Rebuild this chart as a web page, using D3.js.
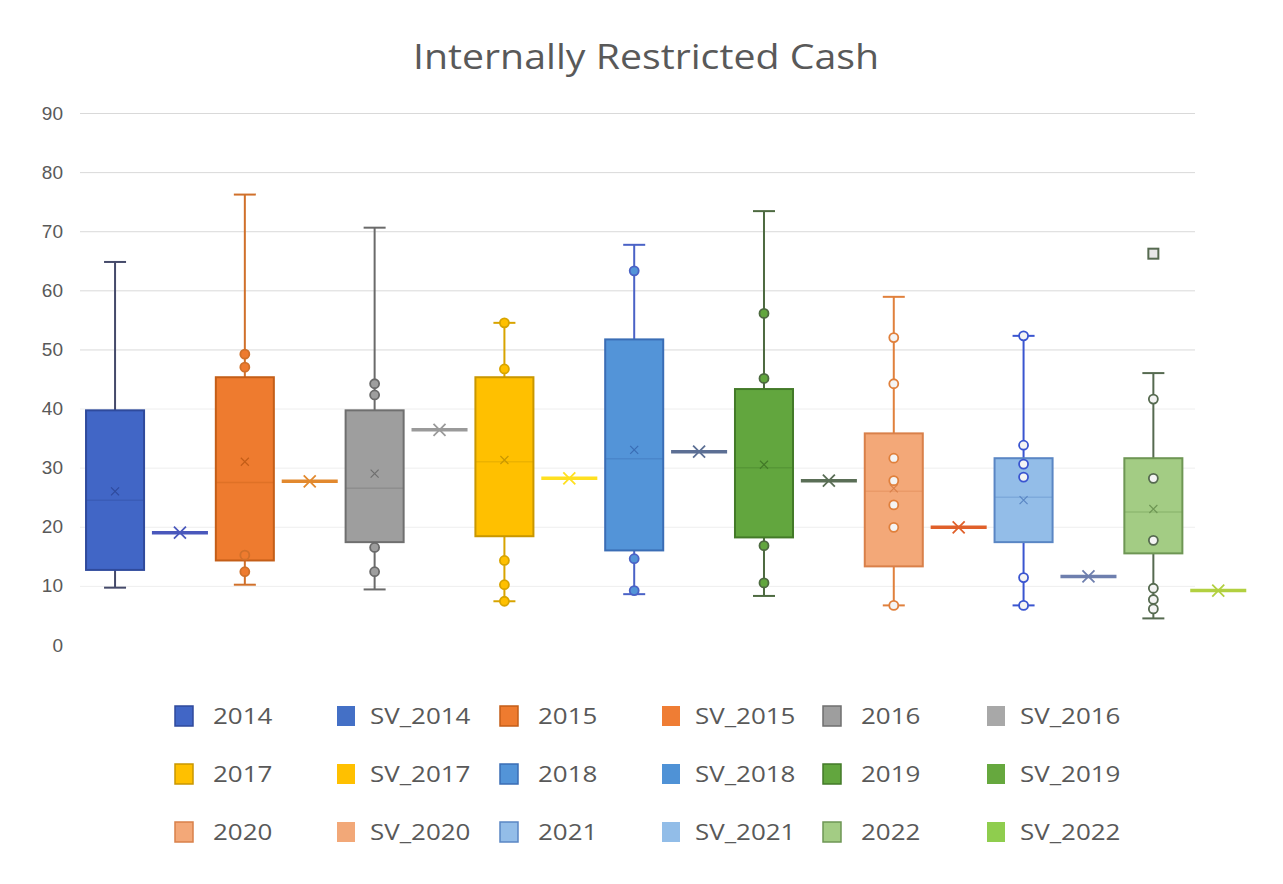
<!DOCTYPE html>
<meta charset="utf-8">
<style>
body {
  margin: 0;
  background: #fff;
  font-family: "Open Sans", sans-serif;
}
.title {
  font-size: 34px;
  fill: #595959;
}
.axis--y text {
  font-size: 19px;
  fill: #595959;
}
.axis--y path, .axis--y line {
  display: none;
}
.grid line {
  stroke: #d9d9d9;
  stroke-width: 1px;
}
.grid .faint line {
  stroke: #eeeeee;
}
.grid path {
  display: none;
}
.legend text {
  font-size: 22px;
  fill: #595959;
}
</style>
<body>
<svg width="1283" height="884"></svg>
<script src="https://d3js.org/d3.v7.min.js"></script>
<script>
// box data per year
var years = ["2014", "2015", "2016", "2017", "2018", "2019", "2020", "2021", "2022"];
var lowWhisker  = [9.7, 10.2, 9.4, 7.4, 8.6, 8.3, 6.7, 6.7, 4.5];
var q1          = [12.7, 14.3, 17.4, 18.4, 16.0, 18.2, 13.3, 17.4, 15.5];
var medians     = [24.5, 27.5, 26.5, 31.0, 31.5, 30.0, 26.0, 25.0, 22.5];
var q3          = [39.7, 45.3, 39.7, 45.3, 51.7, 43.3, 35.8, 31.6, 31.6];
var highWhisker = [64.8, 76.2, 70.6, 54.5, 67.7, 73.4, 58.9, 52.3, 46.0];
var means       = [26.0, 31.0, 29.0, 31.3, 33.0, 30.5, 26.5, 24.5, 23.0];
var points = [
  [],
  [49.2, 47.0, 15.2, 12.4],
  [44.2, 42.3, 16.5, 12.4],
  [54.5, 46.7, 14.3, 10.2, 7.4],
  [63.3, 14.6, 9.2],
  [56.1, 45.1, 16.8, 10.5],
  [52.0, 44.2, 31.6, 27.8, 23.7, 19.9, 6.7],
  [52.3, 33.8, 30.6, 28.4, 11.4, 6.7],
  [41.6, 28.2, 17.7, 9.6, 7.7, 6.1]
];
var outliers = [[], [], [], [], [], [], [], [], [66.2]];
// single value series
var svValues = [19.0, 27.7, 36.4, 28.2, 32.7, 27.8, 19.9, 11.6, 9.2];

var yTicks = [0, 10, 20, 30, 40, 50, 60, 70, 80, 90];

var boxFill   = ["#4166c6", "#ee7b2f", "#9e9e9e", "#ffc000", "#5394d8", "#62a63e", "#f3a878", "#93bde8", "#a3cc84"];
var boxStroke = ["#2f4a9c", "#c45e18", "#6f6f6f", "#c99700", "#3a6db5", "#437a28", "#d9804a", "#5a86c4", "#6e9654"];
var whiskColor = ["#454a6a", "#d0702a", "#6a6a6a", "#d8a400", "#4a62c6", "#4d6a40", "#e0803c", "#3a55d0", "#566a50"];
var svColor   = ["#4a58bc", "#e2892e", "#9a9a9a", "#ffe020", "#5c6f94", "#5a6e56", "#e0602a", "#6e7fae", "#b2d040"];
var svLegend  = ["#4470c6", "#ef7d34", "#a8a8a8", "#ffc000", "#4f92d6", "#66a83e", "#f2a878", "#92bde8", "#8fcd4e"];

var svg = d3.select("svg"),
    margin = {top: 113, bottom: 645};

var slots = [];
years.forEach(function(y) { slots.push(y); slots.push("SV_" + y); });

var x = d3.scaleBand()
    .domain(slots)
    .range([82.6, 1250.7])
    .paddingInner(0.075)
    .paddingOuter(0.0375);

var y = d3.scaleLinear()
    .domain([0, 90])
    .range([margin.bottom, margin.top]);

svg.append("text")
    .attr("class", "title")
    .attr("x", 646)
    .attr("y", 69)
    .attr("text-anchor", "middle")
    .attr("textLength", 466)
    .attr("lengthAdjust", "spacingAndGlyphs")
    .text("Internally Restricted Cash");

// gridlines
var grid = svg.append("g")
    .attr("class", "grid")
    .attr("transform", "translate(80,0)")
    .call(d3.axisLeft(y).tickValues(yTicks.slice(1)).tickSize(-1115).tickFormat(""));
grid.selectAll(".tick").classed("faint", function(d) { return d < 50; });

svg.append("g")
    .attr("class", "axis axis--y")
    .attr("transform", "translate(63,0)")
    .call(d3.axisLeft(y).tickValues(yTicks).tickSize(0).tickPadding(0));

var bw = x.bandwidth();

function xMarker(g, cx, cy, s, color, w) {
  g.append("path")
      .attr("d", "M" + (cx - s) + "," + (cy - s) + "L" + (cx + s) + "," + (cy + s) +
                 "M" + (cx - s) + "," + (cy + s) + "L" + (cx + s) + "," + (cy - s))
      .attr("stroke", color)
      .attr("stroke-width", w)
      .attr("fill", "none");
}

years.forEach(function(yr, i) {
  var g = svg.append("g").attr("class", "box"),
      x0 = x(yr),
      cx = x0 + bw / 2;

  // whisker
  g.append("line")
      .attr("x1", cx).attr("x2", cx)
      .attr("y1", y(highWhisker[i])).attr("y2", y(lowWhisker[i]))
      .attr("stroke", whiskColor[i]).attr("stroke-width", 2);
  [highWhisker[i], lowWhisker[i]].forEach(function(v) {
    g.append("line")
        .attr("x1", cx - 11).attr("x2", cx + 11)
        .attr("y1", y(v)).attr("y2", y(v))
        .attr("stroke", whiskColor[i]).attr("stroke-width", 2);
  });

  g.append("rect")
      .attr("x", x0 + 1)
      .attr("y", y(q3[i]))
      .attr("width", bw - 2)
      .attr("height", y(q1[i]) - y(q3[i]))
      .attr("fill", boxFill[i])
      .attr("stroke", boxStroke[i])
      .attr("stroke-width", 2);

  g.append("line")
      .attr("x1", x0 + 1).attr("x2", x0 + bw - 1)
      .attr("y1", y(medians[i])).attr("y2", y(medians[i]))
      .attr("stroke", boxStroke[i]).attr("stroke-opacity", 0.35).attr("stroke-width", 1.5);

  xMarker(g, cx, y(means[i]), 4, boxStroke[i], 1.2);

  g.selectAll(".pt")
      .data(points[i])
      .enter().append("circle")
      .attr("cx", cx)
      .attr("cy", function(d) { return y(d); })
      .attr("r", 4.5)
      .attr("fill", i >= 6 ? "#f4f4f4" : boxFill[i])
      .attr("stroke", whiskColor[i])
      .attr("stroke-width", 1.8);

  g.selectAll(".out")
      .data(outliers[i])
      .enter().append("rect")
      .attr("x", cx - 5)
      .attr("y", function(d) { return y(d) - 5; })
      .attr("width", 10).attr("height", 10)
      .attr("fill", "#e8e8e8")
      .attr("stroke", whiskColor[i])
      .attr("stroke-width", 2);

  // single value series
  var sx = x("SV_" + yr), sc = sx + bw / 2, sy = y(svValues[i]);
  g.append("line")
      .attr("x1", sx + 2).attr("x2", sx + bw - 2)
      .attr("y1", sy).attr("y2", sy)
      .attr("stroke", svColor[i]).attr("stroke-width", 3.5);
  xMarker(g, sc, sy, 6, svColor[i], 1.8);
});

// legend
var legendX = [175, 337, 500, 662, 823, 987],
    legendY = [716, 774, 832];

var legend = svg.append("g").attr("class", "legend");
slots.forEach(function(name, k) {
  var yi = Math.floor(k / 2),
      isSv = k % 2 === 1,
      col = k % 6,
      row = Math.floor(k / 6),
      lx = legendX[col], ly = legendY[row];
  legend.append("rect")
      .attr("x", lx)
      .attr("y", ly - 10)
      .attr("width", 18)
      .attr("height", 20)
      .attr("fill", isSv ? svLegend[yi] : boxFill[yi])
      .attr("stroke", isSv ? "none" : boxStroke[yi])
      .attr("stroke-width", 1.5);
  legend.append("text")
      .attr("transform", "translate(" + (lx + (isSv ? 33 : 38)) + "," + ly + ") scale(1.18,1)")
      .attr("dy", "0.35em")
      .text(name);
});
</script>
</body>
